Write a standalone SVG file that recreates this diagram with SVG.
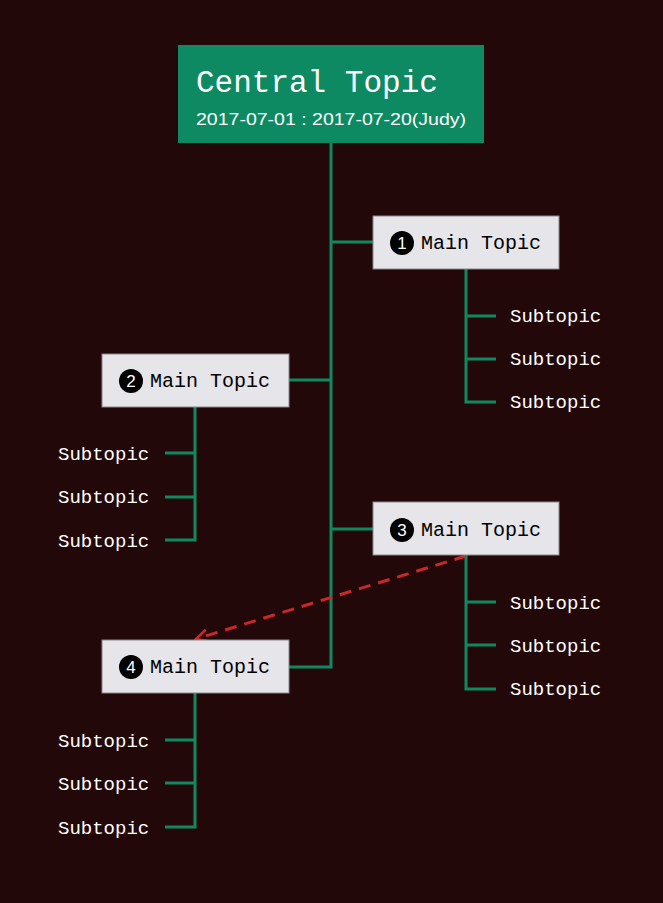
<svg xmlns="http://www.w3.org/2000/svg" width="663" height="903" viewBox="0 0 663 903">
<style>
.c{stroke:#0e8a63;stroke-width:3;fill:none}
.m rect{fill:#e6e5ea;stroke:#888;stroke-width:1}
.m text{font-family:"Liberation Mono","DejaVu Sans Mono",monospace;font-size:20px;fill:#000}
.m circle{fill:#000}
.m .n{font-family:"Liberation Sans",sans-serif;font-size:17px;fill:#fff;text-anchor:middle}
.s{font-family:"Liberation Mono","DejaVu Sans Mono",monospace;font-size:19px;fill:#fff}
</style>
<defs><marker id="a" markerWidth="16" markerHeight="16" refX="14" refY="8" orient="auto" markerUnits="userSpaceOnUse"><path d="M2,2 L14,8 L2,14" fill="none" stroke="#c8282a" stroke-width="2.5"/></marker></defs>
<rect width="663" height="903" fill="#220808"/>
<g id="connectors">
<path class="c" d="M331,143 V667 H289 M331,242 H373 M331,380 H289 M331,529 H373"/>
<path class="c" d="M466,269 V402 H496 M466,316 H496 M466,359 H496"/>
<path class="c" d="M466,555 V689 H496 M466,602 H496 M466,645 H496"/>
<path class="c" d="M195,407 V540 H165 M195,453 H165 M195,497 H165"/>
<path class="c" d="M195,693 V827 H165 M195,740 H165 M195,783 H165"/>
<path d="M466,556 L196,639" stroke="#c8282a" stroke-width="3" stroke-dasharray="12,8" fill="none" marker-end="url(#a)"/>
</g>
<g id="central"><rect x="178" y="45" width="306" height="98" fill="#0e8a63"/>
<text x="196" y="92" font-family="Liberation Mono,DejaVu Sans Mono,monospace" font-size="31" fill="#fff">Central Topic</text>
<text x="196" y="125" font-family="Liberation Sans,sans-serif" font-size="17" fill="#fff" textLength="270" lengthAdjust="spacingAndGlyphs">2017-07-01 : 2017-07-20(Judy)</text></g>
<g id="main1" class="m"><rect x="373" y="216" width="186" height="53"/><circle cx="402" cy="243" r="12"/><text class="n" x="402" y="249">1</text><text x="421" y="249">Main Topic</text></g>
<g id="main2" class="m"><rect x="102" y="354" width="187" height="53"/><circle cx="131" cy="381" r="12"/><text class="n" x="131" y="387">2</text><text x="150" y="387">Main Topic</text></g>
<g id="main3" class="m"><rect x="373" y="502" width="186" height="53"/><circle cx="402" cy="530" r="12"/><text class="n" x="402" y="536">3</text><text x="421" y="536">Main Topic</text></g>
<g id="main4" class="m"><rect x="102" y="640" width="187" height="53"/><circle cx="131" cy="667" r="12"/><text class="n" x="131" y="673">4</text><text x="150" y="673">Main Topic</text></g>
<g id="subs1"><text class="s" x="510" y="322">Subtopic</text><text class="s" x="510" y="365">Subtopic</text><text class="s" x="510" y="408">Subtopic</text></g>
<g id="subs3"><text class="s" x="510" y="609">Subtopic</text><text class="s" x="510" y="652">Subtopic</text><text class="s" x="510" y="695">Subtopic</text></g>
<g id="subs2"><text class="s" x="58" y="460">Subtopic</text><text class="s" x="58" y="503">Subtopic</text><text class="s" x="58" y="547">Subtopic</text></g>
<g id="subs4"><text class="s" x="58" y="747">Subtopic</text><text class="s" x="58" y="790">Subtopic</text><text class="s" x="58" y="834">Subtopic</text></g>
</svg>
